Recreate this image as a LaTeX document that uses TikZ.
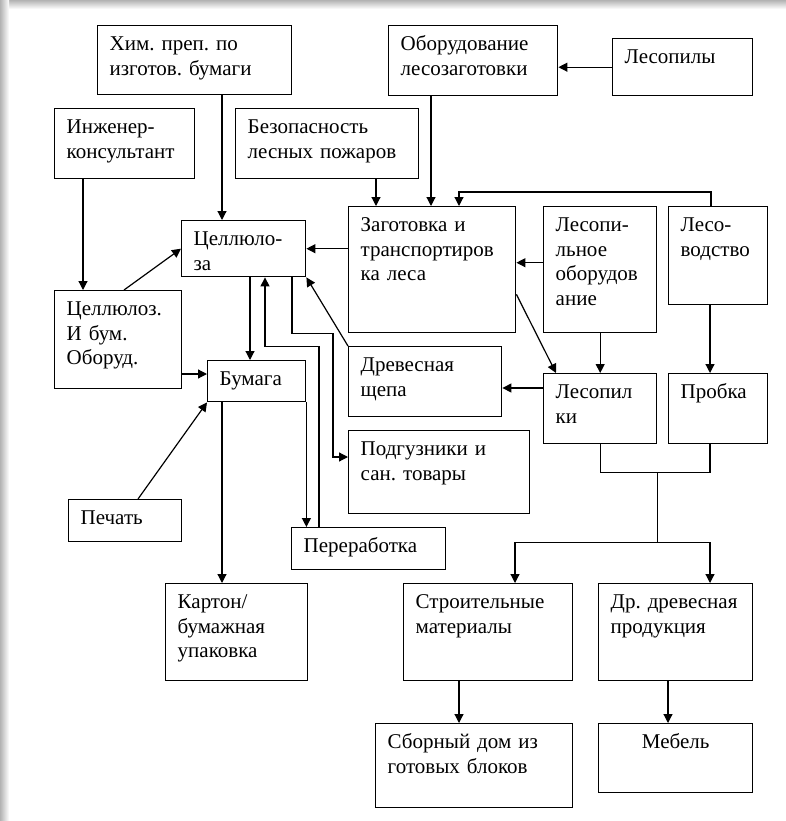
\documentclass[tikz,border=0pt]{standalone}
\usepackage{fontspec}
\setmainfont{Liberation Serif}
\usetikzlibrary{arrows.meta}

\begin{document}
\begin{tikzpicture}[x=1pt,y=-1pt]
        \tikzstyle{blk}=[draw, line width=1.4pt, anchor=north west, inner xsep=12pt, inner ysep=0pt, align=left, text height=25pt, font=\fontsize{21}{24.5}\selectfont\frenchspacing]
        \tikzstyle{arr}=[line width=1.2pt, -{Triangle[length=9pt,width=9pt]}]
        \useasboundingbox (0,0) rectangle (786,821);
        \shade[top color=black!30, bottom color=white] (0,0) rectangle (786,9);
        \shade[left color=black!30, right color=white] (0,0) rectangle (9,821);
        \node[blk, text width=170pt, text depth=44pt] (chem) at (97,25) {Хим. преп. по\\изготов. бумаги};
        \node[blk, text width=116pt, text depth=45pt] (engineer) at (54,108) {Инженер-\\консультант};
        \node[blk, text width=159pt, text depth=45pt] (firesafety) at (235,108) {Безопасность\\лесных пожаров};
        \node[blk, text width=100pt, text depth=31pt] (pulp) at (181,220) {Целлюло-\\за};
        \node[blk, text width=143pt, text depth=101pt] (logging) at (348,206) {Заготовка и\\транспортиров\\ка леса};
        \node[blk, text width=145pt, text depth=45pt] (logequip) at (388,25) {Оборудование\\лесозаготовки};
        \node[blk, text width=116pt, text depth=32pt] (saws) at (612,38) {Лесопилы};
        \node[blk, text width=89pt, text depth=101pt] (millequip) at (543,206) {Лесопи-\\льное\\оборудов\\ание};
        \node[blk, text width=75pt, text depth=73pt] (forestry) at (668,206) {Лесо-\\водство};
        \node[blk, text width=89pt, text depth=45pt] (sawmill) at (543,373) {Лесопил\\ки};
        \node[blk, text width=75pt, text depth=45pt] (cork) at (668,373) {Пробка};
        \node[blk, text width=129pt, text depth=45pt] (chips) at (348,346) {Древесная\\щепа};
        \node[blk, text width=157pt, text depth=58pt] (diapers) at (348,430) {Подгузники и\\сан. товары};
        \node[blk, text width=130pt, text depth=17pt] (recycling) at (291,527) {Переработка};
        \node[blk, text width=103pt, text depth=73pt] (pulpequip) at (54,290) {Целлюлоз.\\И бум.\\Оборуд.};
        \node[blk, text width=74pt, text depth=16pt] (paper) at (207,360) {Бумага};
        \node[blk, text width=89pt, text depth=17pt] (printing) at (68,499) {Печать};
        \node[blk, text width=118pt, text depth=72pt] (carton) at (165,583) {Картон/\\бумажная\\упаковка};
        \node[blk, text width=145pt, text depth=72pt] (building) at (403,583) {Строительные\\материалы};
        \node[blk, text width=130pt, text depth=72pt] (otherwood) at (598,583) {Др. древесная\\продукция};
        \node[blk, text width=173pt, text depth=59pt] (house) at (375,723) {Сборный дом из\\готовых блоков};
        \node[blk, align=center, text width=130pt, text depth=44pt] (furniture) at (598,723) {Мебель};
        \coordinate (join) at ([yshift=-28pt]sawmill.south east);
        \coordinate (split) at ([yshift=-98pt]sawmill.south east);
        \draw[arr] ([xshift=41pt]pulp.north west |- chem.south) -- ([xshift=41pt]pulp.north west);
        \draw[arr] ([xshift=29pt]engineer.south west) -- ([xshift=29pt]pulpequip.north west);
        \draw[arr] ([xshift=28pt]logging.north west |- firesafety.south) -- ([xshift=28pt]logging.north west);
        \draw[arr] ([xshift=43pt]logequip.south west) -- ([xshift=43pt]logequip.south west |- logging.north);
        \draw[arr] (saws.west) -- (saws.west -| logequip.east);
        \draw[arr] ([xshift=43pt]forestry.north west) |- ([xshift=111pt,yshift=14pt]logging.north west) -- ([xshift=111pt]logging.north west);
        \draw[arr] (logging.west |- pulp.east) -- (pulp.east);
        \draw[arr] ([yshift=7pt]millequip.west) -- ([yshift=7pt]logging.east);
        \draw[arr] ([yshift=39pt]logging.south east) -- ([xshift=13pt]sawmill.north west);
        \draw[arr] (millequip.south) -- (sawmill.north);
        \draw[arr] ([xshift=42pt]forestry.south west) -- ([xshift=42pt]cork.north west);
        \draw[arr] ([yshift=-15pt]sawmill.north west) -- ([yshift=-15pt]sawmill.north west -| chips.east);
        \draw[line width=1.2pt] (sawmill.south) |- (join) -| ([xshift=42pt]cork.south west);
        \draw[line width=1.2pt] (join) -- (split);
        \draw[arr] (split) -| ([xshift=112pt]building.north west);
        \draw[arr] (split) -| ([xshift=112pt]otherwood.north west);
        \draw[arr] ([xshift=56pt]building.south west) -- ([xshift=56pt]building.south west |- house.north);
        \draw[arr] ([xshift=69pt]pulp.south west) -- ([xshift=69pt]pulp.south west |- paper.north);
        \draw[arr] ([xshift=28pt]recycling.north west) |- ([xshift=84pt,yshift=-69pt]pulp.south west) -- ([xshift=84pt]pulp.south west);
        \draw[arr] (paper.south east) -- (paper.south east |- recycling.north);
        \draw[arr] ([xshift=15pt]paper.south west) -- ([xshift=15pt]paper.south west |- carton.north);
        \draw[arr] ([xshift=111pt]pulp.south west) |- ([xshift=-15pt]logging.south west) |- ([yshift=-27pt]diapers.north west);
        \draw[arr] (chips.north west) -- (pulp.south east);
        \draw[arr] ([xshift=70pt]pulpequip.north west) -- (pulp.west);
        \draw[arr] ([yshift=-14pt]paper.north west -| pulpequip.east) -- ([yshift=-14pt]paper.north west);
        \draw[arr] ([xshift=70pt]printing.north west) -- (paper.south west);
        \draw[arr] ([xshift=70pt]otherwood.south west) -- ([xshift=70pt]furniture.north west);
    \end{tikzpicture}
\end{document}
